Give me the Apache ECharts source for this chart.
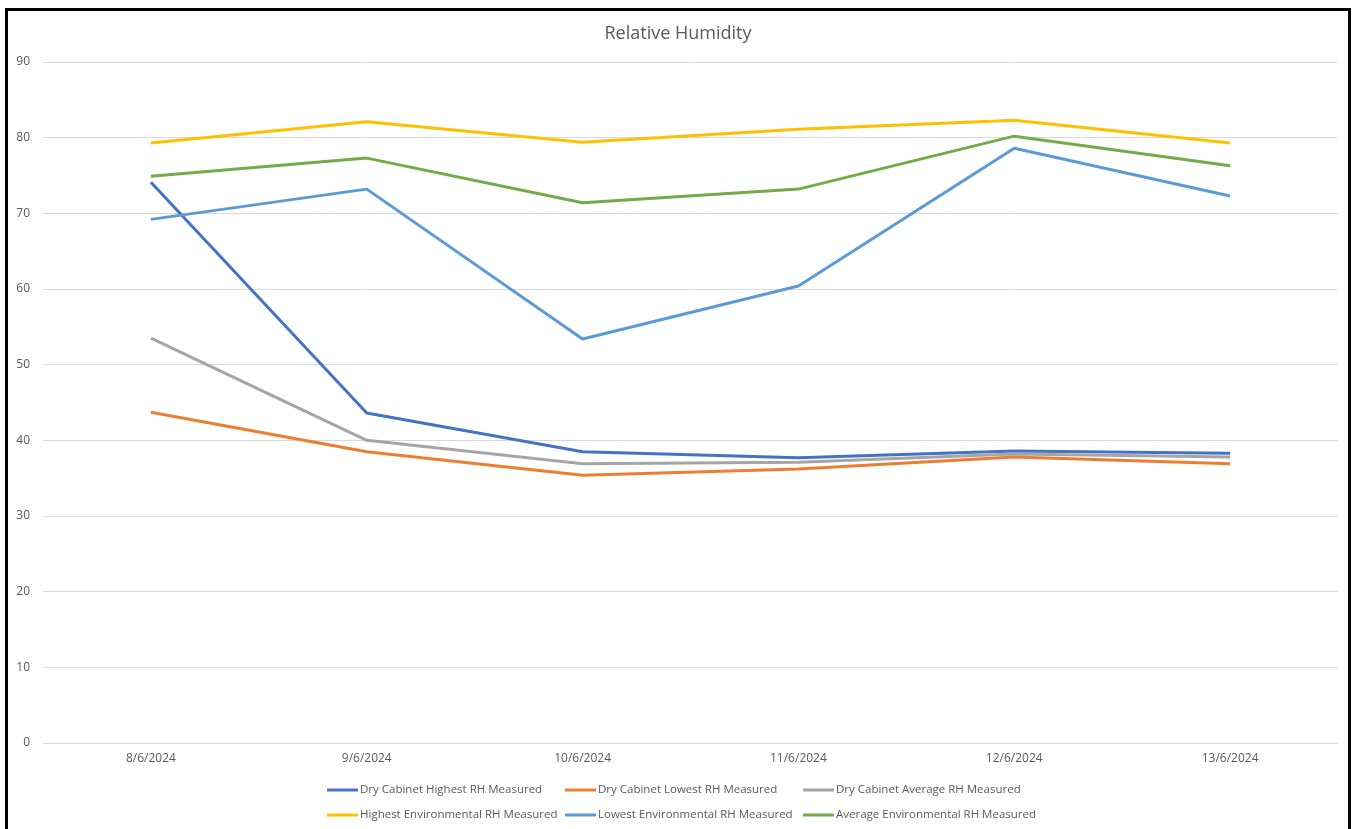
<!DOCTYPE html>
<html>
<head>
<meta charset="utf-8">
<script src="https://cdn.jsdelivr.net/npm/echarts@6/dist/echarts.min.js"></script>
<style>
  html, body { margin: 0; padding: 0; background: #fff; }
  #frame { position: absolute; left: 5px; top: 8px; width: 1346px; height: 840px; border: 3px solid #000; box-sizing: border-box; }
  #chart { position: absolute; left: 0; top: 0; width: 1356px; height: 829px; }
</style>
</head>
<body>
<div id="frame"></div>
<div id="chart"></div>
<script>
const dates = ["8/6/2024", "9/6/2024", "10/6/2024", "11/6/2024", "12/6/2024", "13/6/2024"];

const dryHighest = [74.1, 43.6, 38.5, 37.7, 38.6, 38.3];
const dryLowest = [43.7, 38.5, 35.4, 36.2, 37.8, 36.9];
const dryAverage = [53.5, 40.0, 36.9, 37.1, 38.2, 37.8];
const envHighest = [79.3, 82.1, 79.4, 81.1, 82.3, 79.3];
const envLowest = [69.2, 73.2, 53.4, 60.4, 78.6, 72.3];
const envAverage = [74.9, 77.3, 71.4, 73.2, 80.2, 76.3];

const names = [
    "Dry Cabinet Highest RH Measured",
    "Dry Cabinet Lowest RH Measured",
    "Dry Cabinet Average RH Measured",
    "Highest Environmental RH Measured",
    "Lowest Environmental RH Measured",
    "Average Environmental RH Measured"
];
const values = [dryHighest, dryLowest, dryAverage, envHighest, envLowest, envAverage];
const colors = ["#4472C4", "#ED7D31", "#A5A5A5", "#FFC000", "#5B9BD5", "#70AD47"];

const font = "'Open Sans', 'Noto Sans', sans-serif";
const chart = echarts.init(document.getElementById("chart"), null, { renderer: "canvas" });

// three legend columns, two rows each (Excel style grid)
const legendCols = [327, 565, 803].map((left, c) => ({
    orient: "vertical",
    left: left,
    top: 784,
    padding: 0,
    itemGap: 13,
    itemWidth: 31,
    itemHeight: 3,
    icon: "rect",
    data: [names[c], names[c + 3]],
    textStyle: { color: "#595959", fontSize: 11.5, fontFamily: font, padding: [0, 0, 0, -3] }
}));

chart.setOption({
    animation: false,
    color: colors,
    title: {
        text: "Relative Humidity",
        left: "center",
        top: 20,
        textStyle: { color: "#595959", fontSize: 18, fontWeight: "normal", fontFamily: font }
    },
    legend: legendCols,
    grid: { left: 43, right: 18, top: 62, bottom: 86 },
    xAxis: {
        type: "category",
        data: dates,
        boundaryGap: true,
        axisLine: { show: false },
        axisTick: { show: false },
        axisLabel: { color: "#595959", fontSize: 12, fontFamily: font, margin: 10 }
    },
    yAxis: {
        type: "value",
        min: 0,
        max: 90,
        interval: 10,
        axisLine: { show: false },
        axisTick: { show: false },
        splitLine: { lineStyle: { color: "#d9d9d9", width: 1 } },
        axisLabel: { color: "#595959", fontSize: 12, fontFamily: font, margin: 13 }
    },
    series: names.map((n, i) => ({
        name: n,
        type: "line",
        data: values[i],
        showSymbol: false,
        symbol: "none",
        lineStyle: { width: 3, color: colors[i] },
        itemStyle: { color: colors[i] }
    }))
});
</script>
</body>
</html>
